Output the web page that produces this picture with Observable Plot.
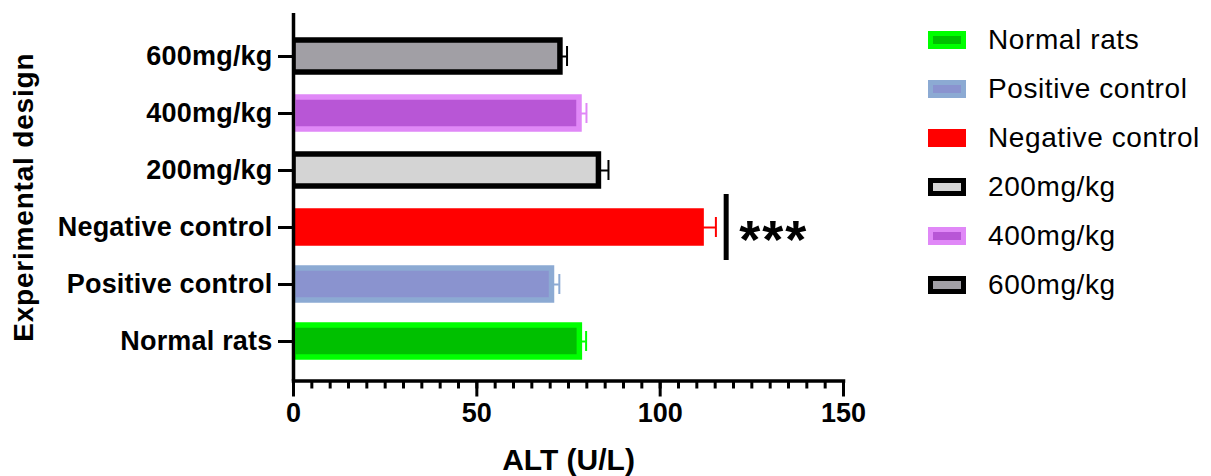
<!DOCTYPE html>
<html><head><meta charset="utf-8">
<script src="https://cdn.jsdelivr.net/npm/d3@7"></script>
<script src="https://cdn.jsdelivr.net/npm/@observablehq/plot@0.6"></script>
<style>
body{margin:0;background:#fff;font-family:"Liberation Sans",Arial,sans-serif;}
#wrap{position:relative;width:1211px;height:476px;overflow:hidden;}
#legend{position:absolute;left:928px;top:15.5px;}
.item{display:flex;align-items:center;height:49px;}
.sw{width:38px;height:18px;box-sizing:border-box;border:5px solid;margin-right:22px;}
.lab{font-size:28px;color:#000;letter-spacing:0.6px;white-space:nowrap;}
svg text{font-family:"Liberation Sans",Arial,sans-serif;}
</style></head><body><div id="wrap"></div>
<script>
// Data
const groups = ["Normal rats","Positive control","Negative control","200mg/kg","400mg/kg","600mg/kg"];
const means  = [78.1, 70.5, 111.3, 83.3, 78.0, 72.8];
const sems   = [1.7, 2.0, 3.9, 2.6, 1.9, 1.8];
const fills  = ["#00c000","#8a93cf","#ff0000","#d4d4d4","#b856d6","#a19fa5"];
const borders= ["#00ff00","#8caad3","#ff0000","#000000","#e088f7","#000000"];
const errColors = ["#00ff00","#8caad3","#ff0000","#000000","#e088f7","#000000"];
const xTicks = [0, 50, 100, 150];
const minorStep = 5;
const significance = [{group: "Negative control", x: 118, label: "***"}];
const xTitle = "ALT (U/L)";
const yTitle = "Experimental design";

const data = groups.map((g, i) => ({group: g, mean: means[i], sem: sems[i], hi: means[i] + sems[i], fill: fills[i], stroke: borders[i], err: errColors[i]}));

const plot = Plot.plot({
  width: 1211, height: 476,
  marginLeft: 293, marginRight: 368, marginTop: 13, marginBottom: 95.5,
  x: {domain: [0, 150]},
  y: {domain: groups.slice().reverse(), paddingInner: 0.44, paddingOuter: 0.39, insetTop: 3.5},
  color: {type: "identity"},
  style: {fontFamily: "'Liberation Sans', Arial, sans-serif", color: "#000", background: "#fff", overflow: "visible"},
  marks: [
    Plot.barX(data, {x: "mean", y: "group", fill: "fill", stroke: "stroke", strokeWidth: 5.5, clip: "frame"}),
    Plot.ruleY(data, {x1: "mean", x2: "hi", y: "group", stroke: "err", strokeWidth: 2}),
    Plot.tickX(data, {x: "hi", y: "group", stroke: "err", strokeWidth: 2, insetTop: 6, insetBottom: 6}),
    Plot.tickX(significance, {x: "x", y: "group", stroke: "#000", strokeWidth: 5, insetTop: -17, insetBottom: -17}),
    Plot.text(significance, {x: "x", y: "group", text: "label", dx: 13, dy: 13, textAnchor: "start", fontSize: 54, fontWeight: "bold", fill: "#000"}),
    Plot.axisX({ticks: d3.range(0, 151, minorStep), tickSize: 8, strokeWidth: 3, text: null, label: null}),
    Plot.axisX({ticks: xTicks, tickSize: 16, tickPadding: 6, strokeWidth: 3, fontSize: 27, fontWeight: "bold", label: null}),
    Plot.axisY({tickSize: 15, tickPadding: 6, strokeWidth: 3, fontSize: 27, fontWeight: "bold", label: null}),
    Plot.ruleX([0], {strokeWidth: 3.5}),
    Plot.frame({anchor: "bottom", strokeWidth: 3.5}),
    Plot.text([xTitle], {frameAnchor: "bottom", dy: 67.5, lineAnchor: "top", fontSize: 30, fontWeight: "bold", fill: "#000"}),
    Plot.text([yTitle], {frameAnchor: "left", dx: -269, rotate: -90, textAnchor: "middle", fontSize: 28, fontWeight: "bold", fill: "#000"})
  ]
});
plot.querySelectorAll('g[aria-label="y-axis tick label"] text').forEach(t => t.setAttribute("letter-spacing", "0.2"));
plot.querySelectorAll('g[aria-label="text"] text').forEach(t => {
  if (t.textContent === yTitle) t.setAttribute("letter-spacing", "0.8");
  if (t.textContent === "***") t.setAttribute("letter-spacing", "2");
});

const wrap = document.getElementById("wrap");
wrap.appendChild(plot);
const legend = document.createElement("div");
legend.id = "legend";
groups.forEach((g, i) => {
  const item = document.createElement("div");
  item.className = "item";
  const sw = document.createElement("span");
  sw.className = "sw";
  sw.style.background = fills[i];
  sw.style.borderColor = borders[i];
  const lab = document.createElement("span");
  lab.className = "lab";
  lab.textContent = g;
  item.appendChild(sw); item.appendChild(lab);
  legend.appendChild(item);
});
wrap.appendChild(legend);
</script></body></html>
